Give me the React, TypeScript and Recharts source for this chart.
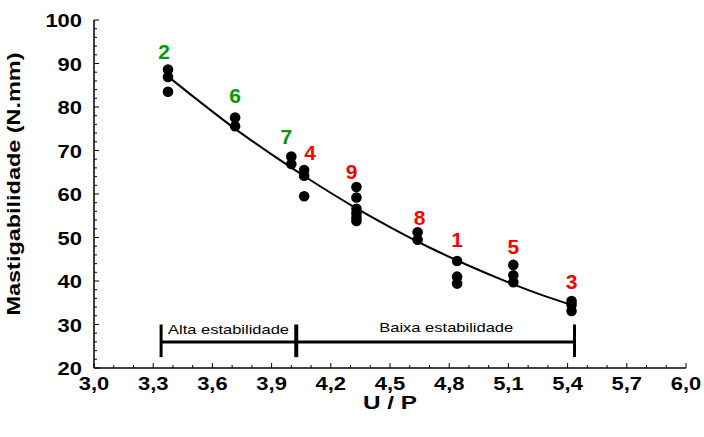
import {
    ComposedChart,
    Scatter,
    Line,
    XAxis,
    YAxis,
    ReferenceLine,
    Label,
} from "recharts";

// measured points (U/P, Mastigabilidade)
const pointU = [
    3.375, 3.375, 3.375,
    3.715, 3.715,
    4.0, 4.0,
    4.065, 4.065, 4.065,
    4.33, 4.33, 4.33, 4.33, 4.33, 4.33,
    4.64, 4.64,
    4.84, 4.84, 4.84,
    5.125, 5.125, 5.125,
    5.42, 5.42, 5.42,
];
const pointM = [
    88.6, 86.9, 83.5,
    77.6, 75.6,
    68.6, 66.9,
    65.5, 64.2, 59.5,
    61.6, 59.2, 56.6, 55.6, 54.6, 53.8,
    51.2, 49.5,
    44.6, 41.0, 39.4,
    43.7, 41.3, 39.7,
    35.4, 34.6, 33.1,
];

// fitted curve
const curveU = [3.37, 3.5, 3.7, 3.9, 4.1, 4.3, 4.5, 4.7, 4.9, 5.1, 5.3, 5.42];
const curveM = [87.2, 82.5, 75.5, 69.1, 63.1, 57.5, 52.4, 47.7, 43.5, 39.7, 36.3, 34.5];

// sample numbers above each group
const groupNames = ["2", "6", "7", "4", "9", "8", "1", "5", "3"];
const groupU = [3.355, 3.715, 3.975, 4.095, 4.305, 4.65, 4.84, 5.125, 5.42];
const groupLabelM = [91.0, 81.0, 71.4, 67.8, 63.4, 52.9, 47.9, 46.1, 38.1];
const groupColors = ["#009a00", "#009a00", "#009a00", "#ff0000", "#ff0000", "#ff0000", "#ff0000", "#ff0000", "#ff0000"];

// stability bracket
const bracketU = [3.34, 4.025, 5.435];
const bracketM = 26;
const stabilityNames = ["Alta estabilidade", "Baixa estabilidade"];

const xMajor = [3.0, 3.3, 3.6, 3.9, 4.2, 4.5, 4.8, 5.1, 5.4, 5.7, 6.0];
const xTicks = [
    3.0, 3.1, 3.2, 3.3, 3.4, 3.5, 3.6, 3.7, 3.8, 3.9, 4.0, 4.1, 4.2, 4.3, 4.4, 4.5,
    4.6, 4.7, 4.8, 4.9, 5.0, 5.1, 5.2, 5.3, 5.4, 5.5, 5.6, 5.7, 5.8, 5.9, 6.0,
];
const yMajor = [20, 30, 40, 50, 60, 70, 80, 90, 100];
const yTicks = [
    20, 22, 24, 26, 28, 30, 32, 34, 36, 38, 40, 42, 44, 46, 48, 50, 52, 54, 56, 58,
    60, 62, 64, 66, 68, 70, 72, 74, 76, 78, 80, 82, 84, 86, 88, 90, 92, 94, 96, 98, 100,
];

const points = pointU.map((u, i) => ({ u, m: pointM[i] }));
const curve = curveU.map((u, i) => ({ u, m: curveM[i] }));
const groupLabels = groupNames.map((name, i) => ({
    u: groupU[i],
    m: groupLabelM[i],
    name,
    color: groupColors[i],
}));
const stabilityLabels = [
    { u: 3.375, m: 27.9, name: stabilityNames[0], anchor: "start", len: 121 },
    { u: 4.785, m: 28.2, name: stabilityNames[1], anchor: "middle", len: 134 },
];

const FONT = "Arial, 'Liberation Sans', sans-serif";

const isMajor = (list: number[], v: number) =>
    list.some((m) => Math.abs(m - v) < 1e-6);

function BottomTick(props: any) {
    const { x, y, payload } = props;
    const major = isMajor(xMajor, payload.value);
    return (
        <g>
            <line x1={x} x2={x} y1={y} y2={y - (major ? 5 : 3)} stroke="#000" strokeWidth={1} />
            {major && (
                <text
                    transform={`translate(${x},${y + 22}) scale(1.22,1)`}
                    textAnchor="middle"
                    fontFamily={FONT}
                    fontWeight="bold"
                    fontSize={18}
                    fill="#000"
                >
                    {payload.value.toFixed(1).replace(".", ",")}
                </text>
            )}
        </g>
    );
}

function TopTick(props: any) {
    const { x, y, payload } = props;
    const major = isMajor(xMajor, payload.value);
    return <line x1={x} x2={x} y1={y} y2={y + (major ? 5 : 3)} stroke="#000" strokeWidth={1} />;
}

function LeftTick(props: any) {
    const { x, y, payload } = props;
    const major = isMajor(yMajor, payload.value);
    return (
        <g>
            <line x1={x} x2={x + (major ? 5 : 3)} y1={y} y2={y} stroke="#000" strokeWidth={1} />
            {major && (
                <text
                    transform={`translate(${x - 12},${y + 7}) scale(1.22,1)`}
                    textAnchor="end"
                    fontFamily={FONT}
                    fontWeight="bold"
                    fontSize={18}
                    fill="#000"
                >
                    {payload.value}
                </text>
            )}
        </g>
    );
}

function RightTick(props: any) {
    const { x, y, payload } = props;
    const major = isMajor(yMajor, payload.value);
    return <line x1={x} x2={x - (major ? 5 : 3)} y1={y} y2={y} stroke="#000" strokeWidth={1} />;
}

function GroupLabel(props: any) {
    const { cx, cy, payload } = props;
    return (
        <text
            x={cx}
            y={cy}
            textAnchor="middle"
            fontFamily={FONT}
            fontWeight="bold"
            fontSize={21}
            fill={payload.color}
        >
            {payload.name}
        </text>
    );
}

function StabilityLabel(props: any) {
    const { cx, cy, payload } = props;
    return (
        <text
            x={cx}
            y={cy}
            textAnchor={payload.anchor}
            fontFamily={FONT}
            fontSize={13}
            textLength={payload.len}
            lengthAdjust="spacingAndGlyphs"
            fill="#000"
        >
            {payload.name}
        </text>
    );
}

function Dot(props: any) {
    const { cx, cy } = props;
    return <circle cx={cx} cy={cy} r={5.3} fill="#000" />;
}

function YTitle(props: any) {
    const { viewBox } = props;
    const cx = viewBox.x - 14;
    const cy = viewBox.y + viewBox.height / 2 - 10;
    return (
        <text
            transform={`translate(${cx},${cy}) rotate(-90)`}
            textAnchor="middle"
            fontFamily={FONT}
            fontWeight="bold"
            fontSize={19}
            textLength={263}
            lengthAdjust="spacingAndGlyphs"
            fill="#000"
        >
            Mastigabilidade (N.mm)
        </text>
    );
}

function XTitle(props: any) {
    const { viewBox } = props;
    const cx = viewBox.x + viewBox.width / 2;
    return (
        <text
            x={cx}
            y={viewBox.y + 41}
            textAnchor="middle"
            fontFamily={FONT}
            fontWeight="bold"
            fontSize={19}
            textLength={54}
            lengthAdjust="spacingAndGlyphs"
            fill="#000"
        >
            U / P
        </text>
    );
}

export default function App() {
    return (
        <div style={{ position: "absolute", left: 0, top: 0, background: "#fff" }}>
            <ComposedChart
                width={704}
                height={437}
                margin={{ top: 20, right: 18, bottom: 19, left: 34 }}
            >
                <XAxis
                    dataKey="u"
                    type="number"
                    domain={[3, 6]}
                    ticks={xTicks}
                    interval={0}
                    tickSize={0}
                    tickMargin={0}
                    tickLine={false}
                    tick={<BottomTick />}
                    height={50}
                    axisLine={{ stroke: "#000", strokeWidth: 1.5 }}
                    allowDataOverflow
                >
                    <Label content={<XTitle />} />
                </XAxis>
                <XAxis
                    xAxisId="top"
                    orientation="top"
                    dataKey="u"
                    type="number"
                    domain={[3, 6]}
                    ticks={xTicks}
                    interval={0}
                    tickSize={0}
                    tickMargin={0}
                    tickLine={false}
                    tick={<TopTick />}
                    height={0}
                    axisLine={{ stroke: "#000", strokeWidth: 1.5 }}
                    allowDataOverflow
                />
                <YAxis
                    dataKey="m"
                    type="number"
                    domain={[20, 100]}
                    ticks={yTicks}
                    interval={0}
                    tickSize={0}
                    tickMargin={0}
                    tickLine={false}
                    tick={<LeftTick />}
                    width={60}
                    axisLine={{ stroke: "#000", strokeWidth: 1.5 }}
                    allowDataOverflow
                >
                    <Label content={<YTitle />} />
                </YAxis>
                <YAxis
                    yAxisId="right"
                    orientation="right"
                    dataKey="m"
                    type="number"
                    domain={[20, 100]}
                    ticks={yTicks}
                    interval={0}
                    tickSize={0}
                    tickMargin={0}
                    tickLine={false}
                    tick={<RightTick />}
                    width={0}
                    axisLine={{ stroke: "#000", strokeWidth: 1.5 }}
                    allowDataOverflow
                />

                {/* stability bracket */}
                <ReferenceLine
                    segment={[
                        { x: bracketU[0], y: bracketM },
                        { x: bracketU[2], y: bracketM },
                    ]}
                    stroke="#000"
                    strokeWidth={3}
                />
                {bracketU.map((u, i) => (
                    <ReferenceLine
                        key={u}
                        segment={[
                            { x: u, y: 22.5 },
                            { x: u, y: 30 },
                        ]}
                        stroke="#000"
                        strokeWidth={i === 1 ? 4 : 3}
                    />
                ))}
                <Scatter
                    data={stabilityLabels}
                    dataKey="m"
                    shape={<StabilityLabel />}
                    isAnimationActive={false}
                />

                <Line
                    data={curve}
                    dataKey="m"
                    type="monotone"
                    stroke="#000"
                    strokeWidth={2}
                    dot={false}
                    activeDot={false}
                    isAnimationActive={false}
                />
                <Scatter
                    data={points}
                    dataKey="m"
                    shape={<Dot />}
                    isAnimationActive={false}
                />
                <Scatter
                    data={groupLabels}
                    dataKey="m"
                    shape={<GroupLabel />}
                    isAnimationActive={false}
                />
            </ComposedChart>
        </div>
    );
}
